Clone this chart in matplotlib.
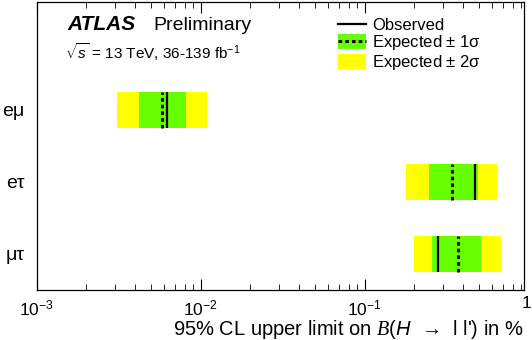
import matplotlib
matplotlib.use('Agg')
import matplotlib.pyplot as plt
from matplotlib.lines import Line2D
from matplotlib.patches import Patch
from matplotlib.ticker import FixedLocator, NullFormatter

plt.rcParams['font.family'] = ['Liberation Sans', 'DejaVu Sans']
plt.rcParams['mathtext.fontset'] = 'custom'
plt.rcParams['mathtext.rm'] = 'Liberation Sans'
plt.rcParams['mathtext.it'] = 'Liberation Sans:italic'
plt.rcParams['mathtext.cal'] = 'Liberation Serif:italic'

# limits in %
channels = ['eμ', 'eτ', 'μτ']
observed = [0.0062, 0.47, 0.28]
expected = [0.0058, 0.34, 0.37]
minus_1sig = [0.0042, 0.248, 0.257]
plus_1sig = [0.0081, 0.493, 0.512]
minus_2sig = [0.0031, 0.179, 0.199]
plus_2sig = [0.0110, 0.638, 0.678]
ypos = [2.5, 1.5, 0.5]
xticks = [1e-3, 1e-2, 1e-1]
xticklabels = ['$10^{-3}$', '$10^{-2}$', '$10^{-1}$']

W, H = 532, 340
fig = plt.figure(figsize=(W / 100, H / 100), dpi=100)
ax = fig.add_axes([36.7 / W, 50 / H, (523.5 - 36.7) / W, 288 / H])

h = 0.5
for i in range(len(channels)):
    y = ypos[i]
    ax.barh(y, plus_2sig[i] - minus_2sig[i], left=minus_2sig[i], height=h,
            color='#ffff00', linewidth=0)
    ax.barh(y, plus_1sig[i] - minus_1sig[i], left=minus_1sig[i], height=h,
            color='#66ff00', linewidth=0)
    ax.vlines(observed[i], y - h / 2, y + h / 2, color='black', lw=1.6)
    ax.vlines(expected[i], y - h / 2, y + h / 2, color='black', lw=2.2,
              linestyles=(0, (1.2, 1.0)))

ax.set_xscale('log')
ax.set_xlim(1e-3, 0.93)
ax.set_ylim(0, 4)
ax.set_yticks(ypos)
ax.set_yticklabels(channels, fontsize=14)
ax.tick_params(axis='y', length=0, pad=9)
ax.set_xticks(xticks)
ax.set_xticklabels(xticklabels)
minors = [m * d for d in xticks for m in range(2, 10)]
ax.xaxis.set_minor_locator(FixedLocator(minors))
ax.xaxis.set_minor_formatter(NullFormatter())
ax.tick_params(axis='x', which='both', direction='in', top=True, labelsize=12.5, pad=6)
ax.tick_params(axis='x', which='major', length=8)
ax.tick_params(axis='x', which='minor', length=4)
for s in ax.spines.values():
    s.set_linewidth(0.9)

ax.set_xlabel("95% CL upper limit on $\\mathcal{B}(H$  →  l l') in %",
              fontsize=14.5, loc='right', labelpad=0)


def fx(px):
    return px / W


def fy(py):
    return 1 - py / H


# the "1" label sits just past the right edge of the axis
fig.text(fx(526.5), fy(304), '1', fontsize=12.5, ha='center', va='center')

fig.text(fx(67), fy(25), 'ATLAS', fontsize=15, fontweight='bold', style='italic', va='center')
fig.text(fx(153), fy(25), 'Preliminary', fontsize=14, va='center')
fig.text(fx(65), fy(52), r'$\sqrt{s}$ = 13 TeV, 36-139 fb$^{-1}$', fontsize=11, va='center')

handles = [
    Line2D([], [], color='black', lw=1.6),
    (Patch(color='#66ff00', lw=0), Line2D([], [], color='black', lw=2.2, ls=(0, (1.2, 1.0)))),
    Patch(color='#ffff00', lw=0),
]
labels = ['Observed', 'Expected $\\pm$ 1σ', 'Expected $\\pm$ 2σ']
fig.legend(handles, labels, loc='upper left', bbox_to_anchor=(fx(338), fy(17)),
           frameon=False, fontsize=12, handlelength=1.7, handleheight=1.0,
           handletextpad=0.35, labelspacing=0.02, borderpad=0, borderaxespad=0)

fig.savefig('out.png', dpi=100)
